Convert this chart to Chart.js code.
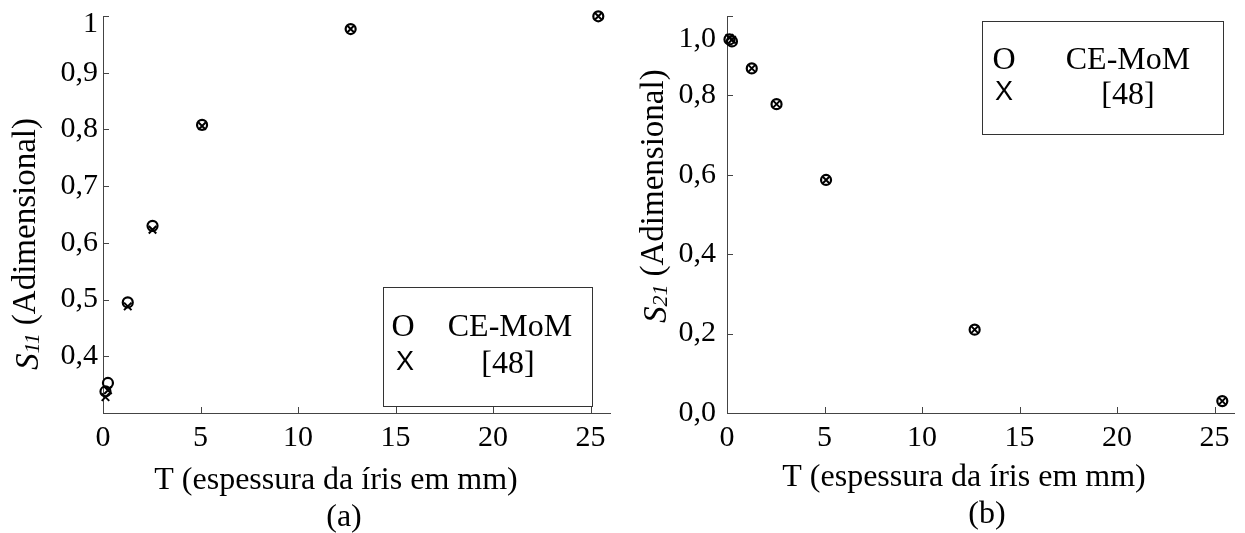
<!DOCTYPE html>
<html>
<head>
<meta charset="utf-8">
<script src="https://cdn.jsdelivr.net/npm/chart.js@4.4.0/dist/chart.umd.min.js"></script>
<style>
  body { margin: 0; background: #fff; }
  #wrap { position: relative; width: 1245px; height: 533px; }
  canvas { position: absolute; top: 0; }
</style>
</head>
<body>
<div id="wrap">
  <canvas id="chartA" width="622" height="533" style="left:0"></canvas>
  <canvas id="chartB" width="623" height="533" style="left:622px"></canvas>
</div>
<script>
// iris thickness in mm
var thickness = [0.127, 0.254, 1.27, 2.54, 5.08, 12.7, 25.4];

// (a) S11
var s11CeMoM = [0.338, 0.353, 0.495, 0.630, 0.808, 0.977, 0.9995];
var s11Ref48 = [0.328, 0.340, 0.488, 0.623, 0.806, 0.977, 0.9995];

// (b) S21
var s21CeMoM = [0.941, 0.936, 0.868, 0.778, 0.587, 0.210, 0.030];
var s21Ref48 = [0.945, 0.940, 0.868, 0.778, 0.587, 0.210, 0.030];

var xTickValues = [0, 5, 10, 15, 20, 25];
var yTickValuesA = [0.4, 0.5, 0.6, 0.7, 0.8, 0.9, 1];
var yTickLabelsA = ['0,4', '0,5', '0,6', '0,7', '0,8', '0,9', '1'];
var yTickValuesB = [0, 0.2, 0.4, 0.6, 0.8, 1];
var yTickLabelsB = ['0,0', '0,2', '0,4', '0,6', '0,8', '1,0'];

var serif = '"Liberation Serif", "Times New Roman", serif';

function pts(xs, ys) {
  var out = [];
  for (var i = 0; i < xs.length; i++) out.push({x: xs[i], y: ys[i]});
  return out;
}

// inward ticks, axis titles, panel label and the boxed legend
var decor = {
  id: 'decor',
  afterDraw: function (chart, args, o) {
    var c = chart.ctx, a = chart.chartArea;
    var xs = chart.scales.x, ys = chart.scales.y;
    c.save();
    c.strokeStyle = '#444';
    c.lineWidth = 1;
    c.beginPath();
    xs.ticks.forEach(function (t) {
      var p = Math.round(xs.getPixelForValue(t.value)) + 0.5;
      c.moveTo(p, a.bottom); c.lineTo(p, a.bottom - 6);
    });
    ys.ticks.forEach(function (t) {
      var p = Math.round(ys.getPixelForValue(t.value)) + 0.5;
      c.moveTo(a.left, p); c.lineTo(a.left + 6, p);
    });
    c.stroke();

    c.fillStyle = '#000';
    c.textBaseline = 'alphabetic';

    // y title, rotated, with subscript
    c.save();
    c.translate(o.yTitle.x, o.yTitle.start);
    c.rotate(-Math.PI / 2);
    var pos = 0;
    c.textAlign = 'left';
    c.font = 'italic 33px ' + serif;
    c.fillText('S', pos, 3);
    pos += c.measureText('S').width;
    c.font = 'italic 22px ' + serif;
    c.fillText(o.yTitle.sub, pos, 4);
    pos += c.measureText(o.yTitle.sub).width + 8;
    c.font = '33px ' + serif;
    c.fillText('(Adimensional)', pos, 0);
    c.restore();

    // x title and panel label
    c.textAlign = 'center';
    c.font = '32px ' + serif;
    c.fillText('T (espessura da íris em mm)', o.xTitle.x, o.xTitle.y);
    c.fillText(o.panel.text, o.panel.x, o.panel.y);

    // legend box
    var b = o.box;
    c.strokeStyle = '#333';
    c.strokeRect(b[0] + 0.5, b[1] + 0.5, b[2], b[3]);
    o.entries.forEach(function (e) {
      c.font = e.symFont;
      c.fillText(e.sym, e.symX, e.symY);
      c.font = '32px ' + serif;
      c.fillText(e.text, e.textX, e.textY);
    });
    c.restore();
  }
};

function buildChart(id, o) {
  var ctx = document.getElementById(id);
  return new Chart(ctx, {
    type: 'scatter',
    data: {
      datasets: [{
        label: 'CE-MoM',
        data: pts(thickness, o.ce),
        pointStyle: 'circle',
        pointRadius: 5,
        borderWidth: 2.2,
        borderColor: '#000',
        backgroundColor: 'rgba(0,0,0,0)',
        clip: false
      }, {
        label: '[48]',
        data: pts(thickness, o.ref),
        pointStyle: 'crossRot',
        pointRadius: 5.3,
        borderWidth: 2,
        borderColor: '#000',
        clip: false
      }]
    },
    options: {
      responsive: false,
      animation: false,
      events: [],
      layout: {padding: {left: 0, top: 16, right: o.padRight, bottom: 0}},
      plugins: {legend: {display: false}, tooltip: {enabled: false}, decor: o},
      scales: {
        x: {
          type: 'linear', min: 0, max: 26,
          grid: {display: false, drawTicks: false},
          border: {display: true, color: '#444', width: 1},
          afterBuildTicks: function (s) {
            s.ticks = xTickValues.map(function (v) { return {value: v}; });
          },
          afterFit: function (s) { s.height = 120; s.paddingLeft = 0; s.paddingRight = 0; },
          ticks: {
            autoSkip: false, maxRotation: 0, padding: 7, color: '#000',
            font: {family: serif, size: 30},
            callback: function (v) { return String(v); }
          }
        },
        y: {
          type: 'linear', min: o.yMin, max: o.yMax,
          grid: {display: false, drawTicks: false},
          border: {display: true, color: '#444', width: 1},
          afterBuildTicks: function (s) {
            s.ticks = o.yValues.map(function (v) { return {value: v}; });
          },
          afterFit: function (s) { s.width = o.yWidth; s.paddingTop = 0; s.paddingBottom = 0; },
          ticks: {
            autoSkip: false, padding: o.labelGap, color: '#000',
            font: {family: serif, size: 30, lineHeight: o.topShift},
            callback: function (v, i) {
              var lab = o.yLabels[i];
              return i === o.yLabels.length - 1 ? ['', lab] : lab;
            }
          }
        }
      }
    },
    plugins: [decor]
  });
}

buildChart('chartA', {
  ce: s11CeMoM, ref: s11Ref48,
  yMin: 0.3, yMax: 1, yValues: yTickValuesA, yLabels: yTickLabelsA,
  yWidth: 103, padRight: 12, topShift: '16px', labelGap: 5,
  yTitle: {x: 35, start: 370, sub: '11'},
  xTitle: {x: 336, y: 489},
  panel: {text: '(a)', x: 344, y: 526},
  box: [383, 287, 209, 119],
  entries: [
    {sym: 'O', symFont: '32px ' + serif, symX: 403, symY: 336, text: 'CE-MoM', textX: 510, textY: 336},
    {sym: 'X', symFont: '27px "Liberation Sans", Arial, sans-serif', symX: 405, symY: 370, text: '[48]', textX: 508, textY: 373}
  ]
});

buildChart('chartB', {
  ce: s21CeMoM, ref: s21Ref48,
  yMin: 0, yMax: 1, yValues: yTickValuesB, yLabels: yTickLabelsB,
  yWidth: 105, padRight: 11, topShift: '46px', labelGap: 11,
  yTitle: {x: 41, start: 323, sub: '21'},
  xTitle: {x: 342, y: 486},
  panel: {text: '(b)', x: 365, y: 523},
  box: [360, 21, 241, 113],
  entries: [
    {sym: 'O', symFont: '32px ' + serif, symX: 382, symY: 69, text: 'CE-MoM', textX: 506, textY: 69},
    {sym: 'X', symFont: '27px "Liberation Sans", Arial, sans-serif', symX: 382, symY: 100, text: '[48]', textX: 506, textY: 104}
  ]
});
</script>
</body>
</html>
